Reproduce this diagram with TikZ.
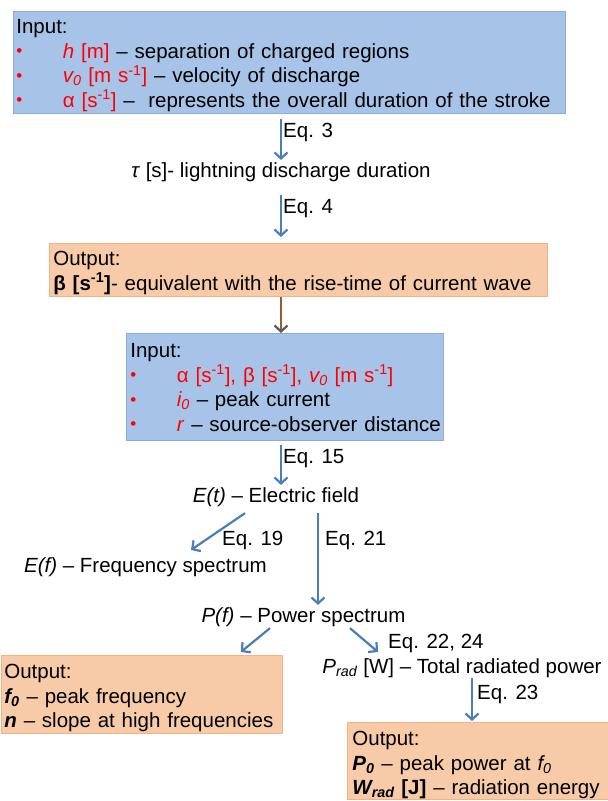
\documentclass[tikz,border=0pt]{standalone}
\usepackage{fontspec}
\setmainfont{Liberation Sans}
\usepackage{xcolor}
\usetikzlibrary{arrows.meta,positioning,calc}

\definecolor{inblue}{HTML}{A7C3E8}
\definecolor{inblueline}{HTML}{8FAADC}
\definecolor{outorange}{HTML}{F8CBA8}
\definecolor{outorangeline}{HTML}{F4B183}
\definecolor{flowblue}{HTML}{4A7EBB}
\definecolor{flowbrown}{HTML}{9A5A32}
\definecolor{flowgray}{HTML}{595959}
\definecolor{inred}{HTML}{FF0000}

\newcommand{\rd}[1]{\textcolor{inred}{#1}}
\newcommand{\invs}{\textsuperscript{-1}}
\newcommand{\initem}[1]{\mbox{\makebox[46.5pt][l]{\textcolor{inred}{\raisebox{1.5pt}{\fontsize{17}{17}\selectfont •}}}#1}}

\begin{document}
\begin{tikzpicture}[
  x=1pt, y=-1pt,
  inputbox/.style={draw=inblueline, fill=inblue, line width=0.8pt, anchor=north west, align=left, inner ysep=0pt, inner xsep=3pt, text height=22pt, font=\fontsize{20.5}{24.6}\selectfont},
  outputbox/.style={draw=outorangeline, fill=outorange, line width=0.8pt, anchor=north west, align=left, inner ysep=0pt, inner xsep=4pt, text height=22pt, font=\fontsize{20.5}{24.6}\selectfont},
  quantity/.style={inner sep=0pt, anchor=base, font=\fontsize{20.5}{24.6}\selectfont},
  eqlabel/.style={inner sep=0pt, anchor=base west, font=\fontsize{20.5}{24.6}\selectfont},
  flow/.style={draw=flowblue, line width=2.2pt, -{Straight Barb[length=6pt, width=13pt]}},
  brownflow/.style={draw=flowbrown, line width=2.2pt, -{Straight Barb[length=6pt, width=13pt, color=flowgray]}}
]
  \fill[white] (0,0) rectangle (608,801);
  \useasboundingbox (0,0) rectangle (608,801);

  % Inputs and outputs
  \node[inputbox, text width=546pt, text depth=80pt] (in1) at (13,11) {Input:\\
    \initem{\rd{\textit{h} [m]} – separation of charged regions}\\
    \initem{\rd{\textit{v\textsubscript{0}} [m s\invs]} – velocity of discharge}\\
    \initem{\rd{α [s\invs]} –\ \ represents the overall duration of the stroke}};

  \node[outputbox, text width=490pt, text depth=31pt] (out1) at (49,243) {Output:\\
    \mbox{\textbf{β [s\invs]}- equivalent with the rise-time of current wave}};

  \node[inputbox, inner xsep=4pt, text width=309pt, text height=24pt, text depth=83pt] (in2) at (126,333) {Input:\\
    \initem{\rd{α [s\invs], β [s\invs], \textit{v\textsubscript{0}} [m s\invs]}}\\
    \initem{\rd{\textit{i\textsubscript{0}}} – peak current}\\
    \initem{\rd{\textit{r}} – source-observer distance}};

  \node[outputbox, inner xsep=3.5pt, text width=274.5pt, text height=23pt, text depth=55pt] (out2) at (0.5,655) {Output:\\
    \mbox{\textbf{\textit{f\textsubscript{0}}} – peak frequency}\\
    \mbox{\textbf{\textit{n}} – slope at high frequencies}};

  \node[outputbox, inner xsep=5pt, text width=252pt, text height=23pt, text depth=54pt] (out3) at (347,722) {Output:\\
    \mbox{\textbf{\textit{P\textsubscript{0}}} – peak power at \textit{f\textsubscript{0}}}\\
    \mbox{\textbf{\textit{W\textsubscript{rad}} [J]} – radiation energy}};

  % Quantities
  \node[quantity] (tau) at (281,177) {\textit{τ} [s]- lightning discharge duration};
  \node[quantity] (Et) at (276,502) {\textit{E(t)} – Electric field};
  \node[quantity] (Ef) at (145.5,572) {\textit{E(f)} – Frequency spectrum};
  \node[quantity] (Pf) at (303.5,622) {\textit{P(f)} – Power spectrum};
  \node[quantity] (Prad) at (462,673) {\textit{P}\textsubscript{\textit{rad}} [W] – Total radiated power};

  % Equation labels
  \node[eqlabel] (eq3) at (283,137) {Eq. 3};
  \node[eqlabel] (eq4) at (283,213) {Eq. 4};
  \node[eqlabel] (eq15) at (283,463) {Eq. 15};
  \node[eqlabel] (eq19) at (222,545) {Eq. 19};
  \node[eqlabel] (eq21) at (325,545) {Eq. 21};
  \node[eqlabel] (eq2224) at (388,648) {Eq. 22, 24};
  \node[eqlabel] (eq23) at (477,699) {Eq. 23};

  % Arrows
  \draw[flow, shorten <=5pt, shorten >=2pt] (in1.south -| tau.north) -- (tau.north);
  \draw[flow, shorten <=13.7pt, shorten >=6pt] (tau.south) -- (tau.south |- out1.north);
  \draw[brownflow] (tau.south |- out1.south) -- (tau.south |- in2.north);
  \draw[flow, shorten <=4pt, shorten >=2pt] (tau.south |- in2.south) -- (tau.south |- Et.north);

  \draw[flow] ([xshift=-31pt,yshift=-6.7pt]Et.south) -- ([xshift=45.5pt,yshift=7pt]Ef.north);
  \draw[flow, shorten <=7pt, shorten >=2pt] ([xshift=42pt]Et.south) -- ([xshift=42pt]Et.south |- Pf.north);

  \draw[flow] ([xshift=-33.5pt,yshift=-1.7pt]Pf.south) -- ([xshift=-42pt,yshift=3pt]out2.north east);
  \draw[flow] ([xshift=46.5pt,yshift=-1.7pt]Pf.south) -- ([xshift=-84pt,yshift=6pt]Prad.north);
  \draw[flow, shorten <=1pt, shorten >=1pt] ([xshift=10pt]Prad.south) -- ([xshift=10pt]Prad.south |- out3.north);
\end{tikzpicture}
\end{document}
